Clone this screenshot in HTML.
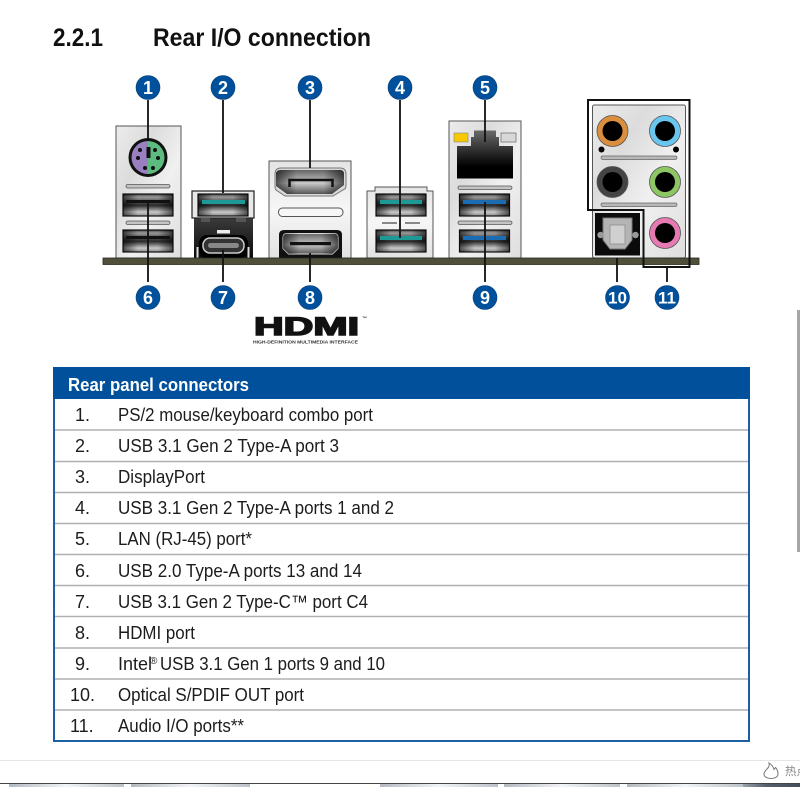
<!DOCTYPE html>
<html><head><meta charset="utf-8"><style>
html,body{margin:0;padding:0;background:#fff;width:800px;height:800px;overflow:hidden}
svg{display:block;filter:blur(.3px)}
text{font-family:"Liberation Sans","Noto Sans CJK SC",sans-serif}
.r{font-size:18px;fill:#1c1c1c}
.c{font-size:18px;font-weight:bold;fill:#fff;text-anchor:middle}
</style></head><body>
<svg width="800" height="800" viewBox="0 0 800 800" xmlns="http://www.w3.org/2000/svg">
<defs>
<linearGradient id="plate" x1="0" y1="0" x2="1" y2="1"><stop offset="0" stop-color="#ececec"/><stop offset=".3" stop-color="#dcdcdc"/><stop offset=".6" stop-color="#f0f0f0"/><stop offset="1" stop-color="#dedede"/></linearGradient>
<linearGradient id="plateL" x1="0" y1="0" x2="0" y2="1"><stop offset="0" stop-color="#e4e4e4"/><stop offset=".5" stop-color="#f6f6f6"/><stop offset="1" stop-color="#e2e2e2"/></linearGradient>
<linearGradient id="usb" x1="0" y1="0" x2="0" y2="1"><stop offset="0" stop-color="#444"/><stop offset=".14" stop-color="#999"/><stop offset=".34" stop-color="#555"/><stop offset=".52" stop-color="#2a2a2a"/><stop offset=".82" stop-color="#c8c8c8"/><stop offset="1" stop-color="#8a8a8a"/></linearGradient>
<linearGradient id="edge" x1="0" y1="0" x2="1" y2="0"><stop offset="0" stop-color="#000" stop-opacity=".6"/><stop offset=".3" stop-color="#000" stop-opacity="0"/><stop offset=".7" stop-color="#000" stop-opacity="0"/><stop offset="1" stop-color="#000" stop-opacity=".6"/></linearGradient>
<linearGradient id="dp" x1="0" y1="0" x2="0" y2="1"><stop offset="0" stop-color="#666"/><stop offset=".55" stop-color="#c8c8c8"/><stop offset="1" stop-color="#555"/></linearGradient>
<linearGradient id="rj" x1="0" y1="0" x2="0" y2="1"><stop offset="0" stop-color="#6a6a6a"/><stop offset=".45" stop-color="#2a2a2a"/><stop offset=".75" stop-color="#000"/></linearGradient>
<linearGradient id="blk" x1="0" y1="0" x2="0" y2="1"><stop offset="0" stop-color="#3a3a3a"/><stop offset="1" stop-color="#0c0c0c"/></linearGradient>
<linearGradient id="tab" x1="0" y1="0" x2="1" y2="0"><stop offset="0" stop-color="#b4bac2"/><stop offset=".5" stop-color="#f2f4f6"/><stop offset="1" stop-color="#bcc2ca"/></linearGradient>
<linearGradient id="dk" x1="0" y1="0" x2="1" y2="0"><stop offset="0" stop-color="#9aa2ae"/><stop offset=".4" stop-color="#56606d"/><stop offset="1" stop-color="#444d59"/></linearGradient>
<g id="usbp"><rect width="50" height="22" fill="url(#usb)" stroke="#111" stroke-width="1.200"/><rect width="50" height="22" fill="url(#edge)"/></g>
</defs>

<text x="53" y="46" font-size="25" font-weight="bold" fill="#111" textLength="50" lengthAdjust="spacingAndGlyphs">2.2.1</text>
<text x="153" y="46" font-size="25" font-weight="bold" fill="#111" textLength="218" lengthAdjust="spacingAndGlyphs">Rear I/O connection</text>

<!-- plates -->
<rect x="116" y="126" width="65" height="132" fill="url(#plate)" stroke="#555"/>
<rect x="269" y="161" width="82" height="97" fill="url(#plateL)" stroke="#555"/>
<path d="M375 187H427V191H433V258H367V191H375Z" fill="url(#plateL)" stroke="#555"/>
<rect x="449" y="121" width="72" height="137" fill="url(#plate)" stroke="#555"/>
<rect x="592.500" y="105" width="93" height="153" rx="2" fill="url(#plate)" stroke="#555"/>

<!-- PS/2 -->
<circle cx="148" cy="157.500" r="19.500" fill="#111"/>
<path d="M148 141a16.500 16.500 0 0 0 0 33z" fill="#9a80c0"/>
<path d="M148 141a16.500 16.500 0 0 1 0 33z" fill="#5ebb80"/>
<rect x="146.500" y="147" width="4" height="11" fill="#111"/>
<g fill="#111"><circle cx="140" cy="150" r="2"/><circle cx="155" cy="150" r="2"/><circle cx="138" cy="158" r="2"/><circle cx="158" cy="158" r="2"/><circle cx="145" cy="168" r="2"/><circle cx="153" cy="168" r="2"/></g>
<rect x="126" y="184.500" width="44" height="3.500" rx="1.700" fill="#c4c4c4" stroke="#555" stroke-width=".8"/>
<rect x="126" y="221" width="44" height="3.500" rx="1.700" fill="#c4c4c4" stroke="#555" stroke-width=".8"/>
<use href="#usbp" x="123" y="194"/>
<use href="#usbp" x="123" y="230"/>
<rect x="126" y="200" width="44" height="3" fill="#111"/><rect x="126" y="236" width="44" height="3" fill="#111"/>

<!-- Port 2 / 7 -->
<rect x="194" y="218" width="59" height="40" fill="url(#blk)"/>
<rect x="192" y="191" width="62" height="27" fill="#e8e8e8" stroke="#222" stroke-width="1.200"/>
<use href="#usbp" x="198" y="194"/>
<rect x="202" y="200" width="43" height="4" fill="#1e9a96"/>
<rect x="201" y="218" width="9" height="4" fill="#555"/><rect x="236" y="218" width="10" height="4" fill="#555"/>
<rect x="217" y="230" width="13" height="3.500" fill="#eee"/>
<rect x="199" y="235" width="49" height="23" rx="8" fill="#000"/>
<rect x="203" y="238" width="41" height="15" rx="7" fill="#333" stroke="#ccc" stroke-width="1.500"/>
<rect x="208" y="243" width="31" height="5" rx="2.500" fill="#888"/>
<rect x="196.500" y="247" width="2" height="11" fill="#ddd"/><rect x="247.500" y="247" width="2" height="11" fill="#ddd"/>

<!-- DP & HDMI -->
<path d="M281 168h59q6 0 6 6v12q0 3-3 4l-10 6h-48l-9-6q-1-1-1-4v-12q0-6 6-6z" fill="#d8d8d8" stroke="#777" stroke-width="1"/>
<path d="M281 170h59q4 0 4 4v11l-12 9h-45l-11-8v-12q0-4 5-4z" fill="url(#dp)"/>
<path d="M281 170h59q4 0 4 4v11l-12 9h-45l-11-8v-12q0-4 5-4z" fill="url(#edge)"/>
<path d="M289.500 187v-7h43v7" fill="none" stroke="#111" stroke-width="2.500"/>
<rect x="278.500" y="208" width="64.500" height="8.500" rx="4" fill="#f6f6f6" stroke="#555"/>
<path d="M284 230h53q5 0 5 5v23h-63v-23q0-5 5-5z" fill="#111"/>
<path d="M287 233.500h47q4 0 4 4v11l-5.500 5.500h-44l-5.500-5.500v-11q0-4 4-4z" fill="url(#dp)" stroke="#ddd" stroke-width="1"/>
<path d="M287 233.500h47q4 0 4 4v11l-5.500 5.500h-44l-5.500-5.500v-11q0-4 4-4z" fill="url(#edge)"/>
<rect x="290" y="242" width="41" height="3.200" fill="#111"/>

<!-- Port 4 -->
<use href="#usbp" x="376" y="194"/>
<use href="#usbp" x="376" y="230"/>
<rect x="380" y="200" width="42" height="4" fill="#1e9a96"/>
<rect x="380" y="236" width="42" height="4" fill="#1e9a96"/>
<rect x="382" y="222" width="15" height="2" fill="#888"/><rect x="405" y="222" width="15" height="2" fill="#888"/>

<!-- LAN -->
<rect x="454" y="133" width="14" height="9" fill="#f8c800" stroke="#888" stroke-width=".6"/>
<rect x="501" y="133" width="15" height="9" fill="#d8d8d8" stroke="#666" stroke-width=".7"/>
<path d="M457 178.500V146H471V137H474V130.500H496V137H499V146H513V178.500Z" fill="url(#rj)"/>
<rect x="458" y="186" width="54" height="3.500" rx="1.700" fill="#c4c4c4" stroke="#555" stroke-width=".8"/>
<rect x="458" y="221" width="54" height="3.500" rx="1.700" fill="#c4c4c4" stroke="#555" stroke-width=".8"/>
<use href="#usbp" x="459.500" y="194"/>
<use href="#usbp" x="459.500" y="230"/>
<rect x="463" y="200" width="43" height="4" fill="#1c6cb4"/>
<rect x="463" y="236" width="43" height="4" fill="#1c6cb4"/>

<!-- Audio -->
<g stroke="#555" stroke-width=".8">
<circle cx="612.500" cy="131" r="15.500" fill="#d98f3d"/><circle cx="665" cy="131" r="15.500" fill="#69c6ee"/>
<circle cx="612.500" cy="182" r="15.500" fill="#444"/><circle cx="665" cy="182" r="15.500" fill="#8dc663"/>
<circle cx="665" cy="233" r="15.500" fill="#e57bb2"/>
</g>
<g fill="#000"><circle cx="612.500" cy="131" r="10"/><circle cx="665" cy="131" r="10"/><circle cx="612.500" cy="182" r="10"/><circle cx="665" cy="182" r="10"/><circle cx="665" cy="233" r="10"/><circle cx="601.500" cy="149.500" r="3"/><circle cx="676" cy="149.500" r="3"/></g>
<rect x="601" y="156" width="76" height="3.500" rx="1.700" fill="#b8b8b8" stroke="#666" stroke-width=".7"/>
<rect x="601" y="203" width="76" height="3.500" rx="1.700" fill="#b8b8b8" stroke="#666" stroke-width=".7"/>
<rect x="595" y="213" width="45" height="42.500" fill="#0b0b0b"/>
<path d="M603 218h29v22l-7 9h-15l-7-9z" fill="#b4b4b4" stroke="#777"/>
<rect x="610" y="225" width="15" height="19" fill="#d0d0d0" stroke="#999"/>
<circle cx="600.500" cy="235" r="3.200" fill="#999"/><circle cx="635.500" cy="235" r="3.200" fill="#999"/>

<!-- base bar -->
<rect x="103" y="258" width="596" height="6.500" fill="#4f4f3a" stroke="#2a2a1e" stroke-width=".8"/>
<path d="M588 100H689.500V267H643.500V210H588Z" fill="none" stroke="#111" stroke-width="2"/>

<!-- leaders -->
<g stroke="#111" stroke-width="1.800" fill="none">
<path d="M148 100V141M223 100V193M310 100V168M400 100V238M485 100V142"/>
<path d="M148 203V282M223 250V282M310 253V282M485 202V282M617 258V282M667 267V282"/>
</g>

<!-- callouts -->
<g fill="#00509b" stroke="#0a3f78" stroke-width=".6">
<circle cx="148" cy="87.500" r="12"/><circle cx="223" cy="87.500" r="12"/><circle cx="310" cy="87.500" r="12"/><circle cx="400" cy="87.500" r="12"/><circle cx="485" cy="87.500" r="12"/>
<circle cx="148" cy="297.500" r="12"/><circle cx="223" cy="297.500" r="12"/><circle cx="310" cy="297.500" r="12"/><circle cx="485" cy="297.500" r="12"/><circle cx="617.500" cy="297.500" r="12"/><circle cx="667" cy="297.500" r="12"/>
</g>
<text class="c" x="148" y="94">1</text><text class="c" x="223" y="94">2</text><text class="c" x="310" y="94">3</text><text class="c" x="400" y="94">4</text><text class="c" x="485" y="94">5</text>
<text class="c" x="148" y="304">6</text><text class="c" x="223" y="304">7</text><text class="c" x="310" y="304">8</text><text class="c" x="485" y="304">9</text><text class="c" x="617.500" y="303.500" style="font-size:17px">10</text><text class="c" x="667" y="303.500" style="font-size:17px">11</text>

<!-- HDMI logo -->
<text x="254" y="335" font-size="25" font-weight="bold" fill="#111" stroke="#111" stroke-width="1.500" textLength="105" lengthAdjust="spacingAndGlyphs">HDMI</text>
<text x="362" y="320" font-size="5" font-weight="bold" fill="#444">™</text>
<text x="253" y="343.500" font-size="4.800" font-weight="bold" fill="#333" textLength="105" lengthAdjust="spacingAndGlyphs">HIGH-DEFINITION MULTIMEDIA INTERFACE</text>

<!-- table -->
<rect x="54" y="368" width="695" height="373" fill="#fff" stroke="#1c5fa5" stroke-width="2"/>
<rect x="53" y="367" width="697" height="32" fill="#00509b"/>
<text x="68" y="391" font-size="18" font-weight="bold" fill="#fff" textLength="181" lengthAdjust="spacingAndGlyphs">Rear panel connectors</text>
<g stroke="#b0b0b0" stroke-width="1.500">
<path d="M55 430H748M55 461.500H748M55 492.500H748M55 523.500H748M55 554.500H748M55 585.500H748M55 616.500H748M55 648H748M55 679H748M55 710H748"/>
</g>
<text class="r" x="75" y="421">1.</text><text class="r" x="118" y="421" textLength="255" lengthAdjust="spacingAndGlyphs">PS/2 mouse/keyboard combo port</text>
<text class="r" x="75" y="452">2.</text><text class="r" x="118" y="452" textLength="221" lengthAdjust="spacingAndGlyphs">USB 3.1 Gen 2 Type-A port 3</text>
<text class="r" x="75" y="483">3.</text><text class="r" x="118" y="483" textLength="87" lengthAdjust="spacingAndGlyphs">DisplayPort</text>
<text class="r" x="75" y="514">4.</text><text class="r" x="118" y="514" textLength="276" lengthAdjust="spacingAndGlyphs">USB 3.1 Gen 2 Type-A ports 1 and 2</text>
<text class="r" x="75" y="545">5.</text><text class="r" x="118" y="545" textLength="134" lengthAdjust="spacingAndGlyphs">LAN (RJ-45) port*</text>
<text class="r" x="75" y="577">6.</text><text class="r" x="118" y="577" textLength="244" lengthAdjust="spacingAndGlyphs">USB 2.0 Type-A ports 13 and 14</text>
<text class="r" x="75" y="608">7.</text><text class="r" x="118" y="608" textLength="250" lengthAdjust="spacingAndGlyphs">USB 3.1 Gen 2 Type-C™ port C4</text>
<text class="r" x="75" y="639">8.</text><text class="r" x="118" y="639" textLength="77" lengthAdjust="spacingAndGlyphs">HDMI port</text>
<text class="r" x="75" y="670">9.</text>
<text class="r" x="118" y="670">Intel</text><text x="150" y="664" font-size="10" fill="#1c1c1c">®</text><text class="r" x="160" y="670" textLength="225" lengthAdjust="spacingAndGlyphs">USB 3.1 Gen 1 ports 9 and 10</text>
<text class="r" x="70" y="701">10.</text><text class="r" x="118" y="701" textLength="186" lengthAdjust="spacingAndGlyphs">Optical S/PDIF OUT port</text>
<text class="r" x="70" y="732">11.</text><text class="r" x="118" y="732" textLength="126" lengthAdjust="spacingAndGlyphs">Audio I/O ports**</text>

<!-- page chrome -->
<rect x="797" y="310" width="3" height="242" fill="#a6a6a6"/>
<rect x="0" y="760" width="800" height="1" fill="#e6e6e6"/>
<path d="M769 763q1 3-2 6q-3 3-3 5q0 4 7 4.500q7-.5 7-4.500q0-4-2.500-6.500l-1.500 2q-1-4-5-6.500z" fill="none" stroke="#777" stroke-width="1"/>
<text x="785" y="775" font-size="11.500" fill="#888">热点</text>
<rect x="0" y="783" width="800" height="1" fill="#444"/>
<g fill="url(#tab)">
<rect x="9" y="784" width="115" height="3"/><rect x="131" y="784" width="119" height="3"/><rect x="380" y="784" width="118" height="3"/><rect x="504" y="784" width="116" height="3"/><rect x="627" y="784" width="116" height="3"/>
</g>
<rect x="743" y="784" width="57" height="3" fill="url(#dk)"/>
</svg>
</body></html>
